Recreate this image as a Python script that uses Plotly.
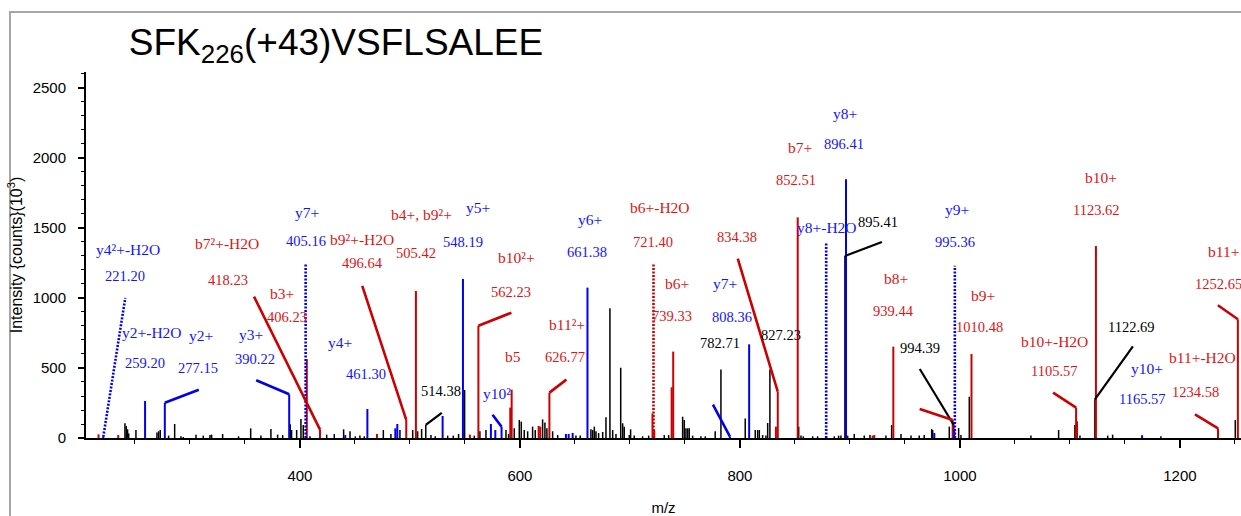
import plotly.graph_objects as go

# ---------------------------------------------------------------------------
# MS/MS spectrum of SFK226(+43)VSFLSALEE
# intensities in 10^3 counts
# ---------------------------------------------------------------------------

# Annotated peaks: label text, m/z, intensity, family (b = red, y = blue, n = unassigned)
ion_label = [
    "y4²+-H2O", "y2+-H2O", "y2+", "y3+", "b7²+-H2O", "b3+", "y7+", "y4+",
    "b9²+-H2O", "b4+, b9²+", "y5+", "", "b10²+", "b5", "y10²", "b11²+",
    "y6+", "b6+-H2O", "b6+", "", "y7+", "", "", "b7+", "y8+", "y8+-H2O",
    "", "y9+", "b8+", "", "b9+", "b10+", "b10+-H2O", "", "y10+",
    "b11+-H2O", "b11+",
]
ion_mz = [
    221.20, 259.20, 277.15, 390.22, 418.23, 406.23, 405.16, 461.30,
    496.64, 505.42, 548.19, 514.38, 562.23, 592.45, 583.29, 626.77,
    661.38, 721.40, 739.33, 834.38, 808.36, 782.71, 827.23, 852.51, 896.41, 878.40,
    895.41, 995.36, 939.44, 994.39, 1010.48, 1123.62, 1105.57, 1122.69, 1165.57,
    1234.58, 1252.65,
]
ion_int = [
    8, 264, 252, 312, 60, 564, 1248, 207,
    129, 1050, 1136, 93, 802, 345, 80, 324,
    1074, 1243, 617, 331, 669, 490, 490, 1576, 1848, 1395,
    1300, 1231, 652, 93, 600, 1371, 217, 276, 20,
    69, 848,
]
ion_family = [
    "y", "y", "y", "y", "b", "b", "y", "y",
    "b", "b", "y", "n", "b", "b", "y", "b",
    "y", "b", "b", "b", "y", "n", "n", "b", "y", "y",
    "n", "y", "b", "n", "b", "b", "b", "n", "y",
    "b", "b",
]
# which annotated peaks print their m/z under the label
ion_show_value = [
    True, True, True, True, True, True, True, True,
    True, True, True, True, True, False, False, True,
    True, True, True, True, True, True, True, True, True, False,
    True, True, True, True, True, True, True, True, True,
    True, True,
]
# peaks drawn with a dotted stick
dotted_labels = ["y7+ 405.16", "b6+-H2O 721.40", "y8+-H2O 878.40", "y9+ 995.36"]

# Minor peaks of the b (red) and y (blue) series without a tag
red_minor_mz = [216.9, 234.8, 470.0, 554.5, 591.2, 617.0, 618.5, 720.5, 722.1,
                737.9, 832.7, 920.6, 922.1, 993.4, 1106.4]
red_minor_int = [26, 21, 29, 24, 217, 86, 81, 175, 57,
                 362, 81, 17, 21, 129, 119]

blue_minor_mz = [441.2, 486.7, 488.5, 529.7, 573.6, 577.6, 641.8, 644.3, 647.9,
                 790.9, 976.7, 994.8]
blue_minor_int = [21, 69, 100, 157, 100, 57, 29, 29, 36,
                  10, 36, 60]

# Unassigned background peaks (black)
noise_mz = [
    240.9, 242.1, 243.3, 244.3, 250.9, 270.0, 271.5, 273.0, 280.6, 286.1,
    291.8, 293.9, 305.5, 312.1, 318.2, 319.7, 329.7, 344.2, 355.2, 364.5,
    373.6, 379.7, 384.3, 391.2, 392.4, 397.0, 400.9, 403.0, 409.1, 424.3,
    431.2, 439.7, 445.5, 450.3, 454.5, 458.5, 475.8, 482.7, 490.9, 502.5,
    507.0, 510.6, 519.1, 523.0, 534.3, 539.4, 544.2, 549.7, 558.5, 563.6,
    569.1, 587.3, 589.7, 594.8, 599.4, 601.2, 603.9, 607.0, 611.5, 613.9,
    620.6, 622.7, 624.5, 629.7, 634.3, 650.9, 654.8, 664.5, 666.1, 667.6,
    669.1, 671.5, 675.2, 678.2, 681.8, 684.3, 687.3, 691.6, 693.4, 694.8,
    699.4, 700.6, 703.9, 711.5, 717.0, 731.2, 735.2, 747.9, 749.4, 750.9,
    752.5, 753.9, 757.0, 764.5, 768.5, 777.5, 804.8, 813.9, 816.1, 817.6,
    820.6, 823.6, 825.2, 853.4, 855.5, 857.6, 866.1, 870.6, 885.8, 889.7,
    891.8, 897.9, 903.9, 913.0, 918.2, 932.7, 937.9, 946.4, 955.5, 963.0,
    967.5, 974.3, 975.2, 990.3, 998.8, 1000.9, 1008.5, 1064.5, 1089.7, 1104.5,
    1109.1, 1134.3, 1138.8, 1182.7, 1250.3,
]
noise_int = [
    105, 86, 62, 33, 57, 40, 48, 57, 17, 100,
    12, 7, 24, 17, 21, 24, 29, 12, 69, 17,
    64, 24, 21, 98, 57, 57, 136, 93, 12, 24,
    29, 62, 48, 12, 17, 12, 57, 29, 57, 57,
    48, 64, 21, 12, 17, 17, 29, 343, 17, 48,
    57, 57, 29, 69, 129, 117, 57, 48, 81, 57,
    133, 110, 69, 48, 21, 17, 17, 62, 57, 81,
    48, 36, 43, 148, 926, 57, 29, 502, 105, 81,
    21, 62, 17, 12, 17, 21, 21, 152, 129, 69,
    69, 69, 17, 12, 12, 48, 140, 57, 57, 57,
    21, 17, 107, 81, 17, 12, 12, 12, 12, 17,
    17, 17, 29, 17, 21, 17, 93, 29, 17, 17,
    21, 64, 57, 81, 71, 21, 295, 17, 57, 93,
    17, 17, 24, 12, 129,
]

# Minor peaks that carry a leader without a tag (m/z, intensity, family)
stub_mz = [790.9, 993.4]
stub_int = [10, 129]
stub_family = ["y", "b"]

# ---------------------------------------------------------------------------
# page geometry and styling
# ---------------------------------------------------------------------------
W, H = 1241, 516
M_L, M_R, M_T, M_B = 86, 0, 72, 78
X_RANGE = [205.5, 1255.5]
Y_RANGE = [0, 2614]
PLOT_W = W - M_L - M_R
PLOT_H = H - M_T - M_B
MZ_PER_PX = (X_RANGE[1] - X_RANGE[0]) / PLOT_W
INT_PER_PX = (Y_RANGE[1] - Y_RANGE[0]) / PLOT_H

SERIF = "Liberation Serif, Times New Roman, serif"
SANS = "Liberation Sans, Arial, sans-serif"

LINE_COL = {"b": "#cc0000", "y": "#0000ee", "n": "#000000"}
TEXT_COL = {"b": "#e01414", "y": "#1414ff", "n": "#000000"}
DOTS = "2px,1.5px"

# label placement, pixel offsets relative to the top of each stick:
# (name dx, name dy, value dx, value dy, leader end dx, leader end dy); dy > 0 is downward
placement = [
    (25, -187, 22, -161, 22, -139),
    (7, -69, 0, -38, None, None),
    (36, -67, 33, -35, 34, -13),
    (-38, -60, -34, -35, -33, -14),
    (-93, -186, -92, -150, -66, -133),
    (-25, -66, -20, -42, None, None),
    (1, -51, 0, -22, None, None),
    (-27, -67, -1, -35, None, None),
    (-44, -180, -44, -157, -44, -134),
    (6, -76, 0, -38, None, None),
    (15, -71, 0, -37, None, None),
    (None, None, 15, -34, 16, -12),
    (38, -68, 33, -34, 33, -13),
    (1, -33, None, None, None, None),
    (-5, -33, None, None, -9, -12),
    (18, -68, 16, -36, 17, -13),
    (3, -68, 0, -36, None, None),
    (7, -56, 0, -22, None, None),
    (4, -68, -1, -36, None, None),
    (None, None, -41, -155, -40, -133),
    (-24, -61, -17, -27, None, None),
    (None, None, -1, -26, None, None),
    (None, None, 11, -34, None, None),
    (2, -70, -2, -37, None, None),
    (-1, -66, -2, -35, None, None),
    (1, -15, None, None, None, None),
    (None, None, 33, -34, 37, -14),
    (2, -56, 0, -24, None, None),
    (3, -68, 0, -36, None, None),
    (None, None, -34, -77, -34, -56),
    (12, -58, 8, -27, None, None),
    (5, -69, 1, -36, None, None),
    (-22, -66, -22, -37, -23, -15),
    (None, None, 37, -72, 38, -53),
    (5, -67, 0, -36, None, None),
    (-15, -71, -22, -36, -23, -14),
    (-14, -68, -19, -35, -20, -14),
]
stub_leader = [(-17, -32), (-33, -11)]
dotted_leader_labels = ["y4²+-H2O"]


def sticks(mz_list, int_list):
    """Centroid sticks as one polyline broken by None gaps."""
    xs, ys = [], []
    for m, v in zip(mz_list, int_list):
        xs += [m, m, None]
        ys += [0, v, None]
    return xs, ys


def is_dotted(i):
    return f"{ion_label[i]} {ion_mz[i]:.2f}" in dotted_labels


fig = go.Figure()

# black: background peaks plus the tagged unassigned masses
n_idx = [i for i in range(len(ion_mz)) if ion_family[i] == "n"]
bx, by = sticks(noise_mz + [ion_mz[i] for i in n_idx],
                noise_int + [ion_int[i] for i in n_idx])
fig.add_trace(go.Scatter(x=bx, y=by, mode="lines", line=dict(color="#000000", width=1.5),
                         hoverinfo="skip", showlegend=False))

# red b series, then blue y series on top
for fam, minor_mz, minor_int in (("b", red_minor_mz, red_minor_int),
                                 ("y", blue_minor_mz, blue_minor_int)):
    solid = [i for i in range(len(ion_mz)) if ion_family[i] == fam and not is_dotted(i)]
    dots = [i for i in range(len(ion_mz)) if ion_family[i] == fam and is_dotted(i)]
    sx, sy = sticks(minor_mz + [ion_mz[i] for i in solid],
                    minor_int + [ion_int[i] for i in solid])
    fig.add_trace(go.Scatter(x=sx, y=sy, mode="lines", line=dict(color=LINE_COL[fam], width=2),
                             hoverinfo="skip", showlegend=False))
    qx, qy = sticks([ion_mz[i] for i in dots], [ion_int[i] for i in dots])
    fig.add_trace(go.Scatter(x=qx, y=qy, mode="lines",
                             line=dict(color=LINE_COL[fam], width=2.6, dash=DOTS),
                             hoverinfo="skip", showlegend=False))

shapes = []
annotations = []


def leader(m, v, fam, dx, dy, dotted=False):
    shapes.append(dict(
        type="line", xref="x", yref="y", layer="above",
        x0=m, y0=v, x1=m + dx * MZ_PER_PX, y1=v - dy * INT_PER_PX,
        line=dict(color=LINE_COL[fam], width=2.6 if fam != "n" else 2.2,
                  dash=DOTS if dotted else "solid"),
    ))


for i, m in enumerate(ion_mz):
    v = ion_int[i]
    fam = ion_family[i]
    ndx, ndy, vdx, vdy, ldx, ldy = placement[i]
    if ion_label[i] and ndx is not None:
        annotations.append(dict(
            x=m, y=v, xref="x", yref="y", text=ion_label[i], showarrow=False,
            xshift=ndx, yshift=-ndy, xanchor="center", yanchor="middle",
            font=dict(family=SERIF, size=15.5, color=TEXT_COL[fam]),
        ))
    if ion_show_value[i] and vdx is not None:
        annotations.append(dict(
            x=m, y=v, xref="x", yref="y", text=f"{m:.2f}", showarrow=False,
            xshift=vdx, yshift=-vdy, xanchor="center", yanchor="middle",
            font=dict(family=SERIF, size=14.5, color=TEXT_COL[fam]),
        ))
    if ldx is not None:
        leader(m, v, fam, ldx, ldy, dotted=ion_label[i] in dotted_leader_labels)

for m, v, fam, (ldx, ldy) in zip(stub_mz, stub_int, stub_family, stub_leader):
    leader(m, v, fam, ldx, ldy)

# grey picture frame around the figure
shapes.append(dict(
    type="rect", xref="paper", yref="paper", layer="below",
    x0=(10 - M_L) / PLOT_W, x1=(W + 20 - M_L) / PLOT_W,
    y0=-(M_B + 20) / PLOT_H, y1=(H - M_B - 12) / PLOT_H,
    line=dict(color="#a6a6a6", width=2), fillcolor="rgba(0,0,0,0)",
))

fig.update_layout(
    width=W, height=H, autosize=False,
    margin=dict(l=M_L, r=M_R, t=M_T, b=M_B, pad=0),
    paper_bgcolor="white", plot_bgcolor="white",
    showlegend=False,
    title=dict(
        text="SFK<sub>226</sub>(+43)VSFLSALEE",
        x=336 / W, y=1 - 42 / H, xref="container", yref="container",
        xanchor="center", yanchor="middle",
        font=dict(family=SANS, size=37, color="#000000"),
    ),
    xaxis=dict(
        range=X_RANGE, showgrid=False, zeroline=False,
        showline=True, linecolor="#000000", linewidth=2,
        ticks="outside", ticklen=8, tickwidth=1.5, tickcolor="#000000",
        tick0=0, dtick=200,
        minor=dict(ticks="outside", dtick=50, tick0=0, ticklen=4, tickwidth=1.2, tickcolor="#000000"),
        tickfont=dict(family=SANS, size=15, color="#000000"),
        ticklabelstandoff=15,
        title=dict(text="m/z", font=dict(family=SANS, size=15, color="#000000"), standoff=20),
    ),
    yaxis=dict(
        range=Y_RANGE, showgrid=False, zeroline=False,
        showline=True, linecolor="#000000", linewidth=2,
        ticks="outside", ticklen=6, tickwidth=1.5, tickcolor="#000000",
        tick0=0, dtick=500,
        minor=dict(ticks="outside", dtick=100, tick0=0, ticklen=3, tickwidth=1.2, tickcolor="#000000"),
        tickfont=dict(family=SANS, size=15, color="#000000"),
        ticklabelstandoff=9,
        title=dict(text="Intensity {counts}(10<sup>3</sup>)",
                   font=dict(family=SANS, size=16, color="#000000"), standoff=6),
    ),
    shapes=shapes,
    annotations=annotations,
)

fig.write_html("out.html")
